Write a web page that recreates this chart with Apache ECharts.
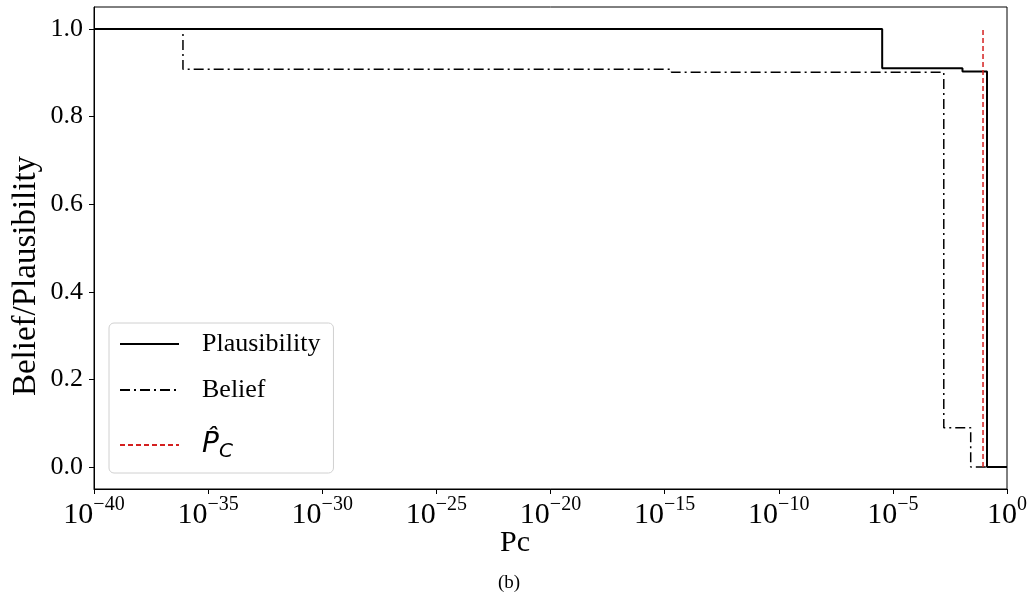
<!DOCTYPE html>
<html>
<head>
<meta charset="utf-8">
<script src="https://cdn.jsdelivr.net/npm/echarts@6/dist/echarts.min.js"></script>
<style>
  html, body { margin: 0; padding: 0; background: #fff; }
  #chart { width: 1031px; height: 600px; }
</style>
</head>
<body>
<div id="chart"></div>
<script>
// step curves (Pc value where each level starts)
var plausX = [1e-40, 3.4e-6, 0.0112, 0.133, 1];
var plausY = [1, 0.91, 0.903, 0, 0];
var beliefX = [1e-40, 7.9e-37, 2.0e-15, 1.7e-3, 0.0257, 1];
var beliefY = [1, 0.908, 0.901, 0.09, 0, 0];
var pcHatX = 0.089;
var pcHatY = [0, 1];
var xTickExp = [-40, -35, -30, -25, -20, -15, -10, -5, 0];
var yTicks = [0, 0.2, 0.4, 0.6, 0.8, 1.0];

var serif = "Liberation Serif";
var chart = echarts.init(document.getElementById("chart"));

function zip(xs, ys) {
  return xs.map(function (x, i) { return [x, ys[i]]; });
}

var option = {
  animation: false,
  grid: {
    left: 94, right: 24, top: 7, bottom: 111,
    show: true, borderColor: "#000", borderWidth: 1
  },
  legend: {
    left: 109, top: 323,
    orient: "vertical",
    padding: [6, 13, 4, 10],
    itemWidth: 59, itemHeight: 14, itemGap: 16,
    itemStyle: { opacity: 0 },
    backgroundColor: "rgba(255,255,255,0.8)",
    borderColor: "#d0d0d0", borderWidth: 1, borderRadius: 5,
    data: ["Plausibility", "Belief", "Pc_hat"],
    formatter: function (name) {
      return name == "Pc_hat" ? "{p|P\u0302}{s|C}" : name;
    },
    textStyle: {
      fontFamily: serif, fontSize: 26, color: "#000", lineHeight: 30,
      padding: [0, 0, 0, 18],
      rich: {
        p: { fontFamily: "DejaVu Sans", fontStyle: "italic", fontSize: 28, lineHeight: 48, color: "#000" },
        s: { fontFamily: "DejaVu Sans", fontStyle: "italic", fontSize: 20, lineHeight: 48, color: "#000", padding: [14, 0, 0, 0] }
      }
    }
  },
  xAxis: {
    type: "log",
    logBase: 10,
    min: 1e-40, max: 1,
    axisLine: { onZero: false, lineStyle: { color: "#000", width: 1 } },
    axisTick: { length: 5, lineStyle: { color: "#000" }, customValues: xTickExp.map(function (e) { return Math.pow(10, e); }) },
    splitLine: { show: false },
    minorTick: { show: false },
    axisLabel: {
      margin: 6,
      customValues: xTickExp.map(function (e) { return Math.pow(10, e); }),
      formatter: function (v) {
        var e = Math.round(Math.log10(v));
        return "{b|10}{e|" + String(e).replace("-", "\u2212") + "}";
      },
      rich: {
        b: { fontFamily: serif, fontSize: 30, lineHeight: 40, color: "#000" },
        e: { fontFamily: serif, fontSize: 20, lineHeight: 14, verticalAlign: "top", color: "#000" }
      }
    }
  },
  yAxis: {
    type: "value",
    min: -0.05, max: 1.05,
    axisLine: { show: true, onZero: false, lineStyle: { color: "#000", width: 1 } },
    axisTick: { show: true, length: 5, lineStyle: { color: "#000" }, customValues: yTicks },
    splitLine: { show: false },
    axisLabel: {
      margin: 11,
      customValues: yTicks,
      fontFamily: serif, fontSize: 26, color: "#000",
      formatter: function (v) { return v.toFixed(1); }
    }
  },
  graphic: [
    {
      type: "text", x: 26, y: 276, rotation: Math.PI / 2,
      style: { text: "Belief/Plausibility", fontFamily: serif, fontSize: 33, fill: "#000", align: "center", verticalAlign: "middle" }
    },
    {
      type: "text", x: 515, y: 543,
      style: { text: "Pc", fontFamily: serif, fontSize: 30, fill: "#000", align: "center", verticalAlign: "middle" }
    },
    {
      type: "text", x: 509, y: 583,
      style: { text: "(b)", fontFamily: serif, fontSize: 19, fill: "#000", align: "center", verticalAlign: "middle" }
    }
  ],
  series: [
    {
      name: "Plausibility",
      type: "line",
      step: "end",
      symbol: "none",
      lineStyle: { color: "#000", width: 2 },
      itemStyle: { color: "#000" },
      data: zip(plausX, plausY)
    },
    {
      name: "Belief",
      type: "line",
      step: "end",
      symbol: "none",
      lineStyle: { color: "#000", width: 1.5, type: [10, 4, 2, 4] },
      itemStyle: { color: "#000" },
      data: zip(beliefX, beliefY)
    },
    {
      name: "Pc_hat",
      type: "line",
      symbol: "none",
      lineStyle: { color: "#d42020", width: 1.5, type: [5, 3] },
      itemStyle: { color: "#d42020" },
      data: pcHatY.map(function (y) { return [pcHatX, y]; })
    }
  ]
};
chart.setOption(option);
</script>
</body>
</html>
